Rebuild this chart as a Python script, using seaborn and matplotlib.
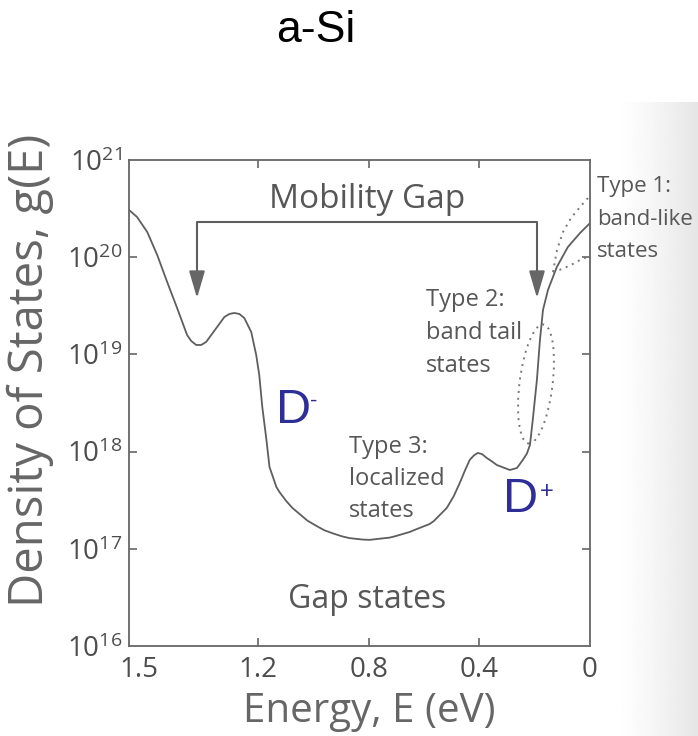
import numpy as np
import pandas as pd
import matplotlib
matplotlib.use("Agg")
import matplotlib.pyplot as plt
import seaborn as sns
from matplotlib.patches import Ellipse
from matplotlib.ticker import NullLocator, FixedLocator, LogFormatterMathtext

# ---- data ----
energy_eV = [1.667, 1.638, 1.601, 1.565, 1.529, 1.493, 1.457, 1.442, 1.424, 1.406,
             1.388, 1.351, 1.322, 1.304, 1.286, 1.268, 1.250, 1.225, 1.207, 1.196,
             1.185, 1.170, 1.159, 1.134, 1.123, 1.098, 1.076, 1.051, 1.022, 0.989,
             0.960, 0.931, 0.899, 0.870, 0.822, 0.797, 0.725, 0.710, 0.652, 0.638,
             0.580, 0.565, 0.518, 0.493, 0.471, 0.453, 0.435, 0.420, 0.406, 0.391,
             0.373, 0.355, 0.337, 0.290, 0.264, 0.243, 0.228, 0.217, 0.207, 0.192,
             0.181, 0.170, 0.152, 0.120, 0.080, 0.036, 0.007, 0.0]
log10_dos = [20.486, 20.414, 20.259, 20.023, 19.745, 19.477, 19.200, 19.138, 19.097, 19.097,
             19.128, 19.272, 19.385, 19.416, 19.426, 19.416, 19.374, 19.230, 18.994, 18.788,
             18.459, 18.119, 17.842, 17.636, 17.584, 17.490, 17.420, 17.360, 17.290, 17.235,
             17.190, 17.160, 17.130, 17.110, 17.095, 17.092, 17.115, 17.125, 17.173, 17.190,
             17.255, 17.285, 17.420, 17.540, 17.677, 17.800, 17.914, 17.960, 17.986, 17.975,
             17.934, 17.900, 17.862, 17.811, 17.831, 17.914, 17.980, 18.070, 18.325, 18.737,
             19.148, 19.457, 19.663, 19.899, 20.105, 20.249, 20.331, 20.350]
x_tick_values = [1.63, 1.2, 0.8, 0.4, 0.0]
x_tick_labels = ["1.5", "1.2", "0.8", "0.4", "0"]
y_decades = [16, 17, 18, 19, 20, 21]

# ---- style ----
sns.set_theme(style="ticks")
plt.rcParams['font.family'] = ['Open Sans', 'DejaVu Sans']
plt.rcParams['mathtext.fontset'] = 'custom'
plt.rcParams['mathtext.rm'] = 'Open Sans'
plt.rcParams['mathtext.it'] = 'Open Sans:italic'
plt.rcParams['mathtext.bf'] = 'Open Sans:bold'

GRAY = '#5e5e5e'
TXT = '#575757'
BLUE = '#2e2e98'

W, H = 698, 736
fig = plt.figure(figsize=(W / 100, H / 100), dpi=100)
fig.patch.set_facecolor('white')

# scanned-page shading at the right
bg = fig.add_axes([615 / W, 0, (W - 615) / W, (736 - 102) / H], zorder=0)
grad = 1.0 - 0.10 * np.linspace(0, 1, 200) ** 1.3
bg.imshow(np.tile(grad, (10, 1)), cmap='gray', vmin=0, vmax=1, aspect='auto',
          extent=[0, 1, 0, 1])
bg.axis('off')

L, R, T, B = 129, 590, 160, 646
ax = fig.add_axes([L / W, 1 - B / H, (R - L) / W, (B - T) / H], zorder=2)
ax.set_facecolor('white')

df = pd.DataFrame({'E': energy_eV, 'g': 10.0 ** np.array(log10_dos)})
sns.lineplot(data=df, x='E', y='g', ax=ax, color=GRAY, lw=1.3, sort=False,
             estimator=None)
ax.set_yscale('log')
ax.set_ylim(10.0 ** y_decades[0], 10.0 ** y_decades[-1])
ax.set_xlim(1.667, 0)

ax.xaxis.set_major_locator(FixedLocator(x_tick_values))
ax.set_xticklabels(x_tick_labels)
ax.yaxis.set_major_locator(FixedLocator([10.0 ** d for d in y_decades]))
ax.yaxis.set_major_formatter(LogFormatterMathtext())
ax.yaxis.set_minor_locator(NullLocator())
ax.xaxis.set_minor_locator(NullLocator())

ax.tick_params(axis='both', direction='in', length=6, width=1.2, colors='#666666',
               labelcolor='#4d4d4d', labelsize=20, top=True, right=True)
ax.tick_params(axis='x', pad=7)
ax.tick_params(axis='y', pad=5)
for t in ax.xaxis.get_major_ticks()[:1] + ax.xaxis.get_major_ticks()[-1:]:
    t.tick1line.set_visible(False)
    t.tick2line.set_visible(False)
for t in ax.yaxis.get_major_ticks()[:1] + ax.yaxis.get_major_ticks()[-1:]:
    t.tick1line.set_visible(False)
    t.tick2line.set_visible(False)
for s in ax.spines.values():
    s.set_color('#666666')
    s.set_linewidth(1.3)

ax.set_xlabel("Energy, E (eV)", fontsize=29, color='#666666')
ax.xaxis.set_label_coords((369 - L) / (R - L), (B - 691) / (B - T))
ax.set_ylabel("")
fig.text(30 / W, 1 - 370 / H, "Density of States, g(E)", rotation=90, ha='center',
         va='center', fontsize=34, color='#666666')


def fx(px):
    return (px - L) / (R - L)


def fy(py):
    return (B - py) / (B - T)


# Mobility gap bracket
ax.plot([fx(197), fx(197), fx(537), fx(537)], [fy(285), fy(222), fy(222), fy(285)],
        transform=ax.transAxes, color=GRAY, lw=1.5, solid_capstyle='butt')
for xx in (197, 537):
    ax.annotate('', xy=(fx(xx), fy(298)), xytext=(fx(xx), fy(274)),
                xycoords='axes fraction', textcoords='axes fraction',
                arrowprops=dict(arrowstyle='-|>,head_length=0.75,head_width=0.22',
                                color='#666666', lw=1.5, mutation_scale=22,
                                shrinkA=0, shrinkB=0))
ax.text(fx(367), fy(199), "Mobility Gap", transform=ax.transAxes, ha='center',
        va='center', fontsize=24, color=TXT)

# dotted outlines
DOT = (0, (1, 2.5))
ax.add_patch(Ellipse((fx(536), fy(384)), 33 / (R - L), 120 / (B - T), angle=-7.5,
                     transform=ax.transAxes, fill=False, ls=DOT,
                     ec='#777777', lw=1.4))
ax.plot([fx(p) for p in (553, 557, 563, 571, 580, 588)],
        [fy(p) for p in (272, 250, 232, 218, 207, 198)],
        transform=ax.transAxes, color='#777777', lw=1.4, ls=DOT, clip_on=False)
ax.plot([fx(p) for p in (553, 562, 571, 580, 590)],
        [fy(p) for p in (272, 269, 265, 260, 256)],
        transform=ax.transAxes, color='#777777', lw=1.4, ls=DOT, clip_on=False)

# annotations
ax.text(fx(597), fy(176), "Type 1:\nband-like\nstates", transform=ax.transAxes,
        ha='left', va='top', fontsize=16, color=TXT, linespacing=1.72, clip_on=False)
ax.text(fx(426), fy(288), "Type 2:\nband tail\nstates", transform=ax.transAxes,
        ha='left', va='top', fontsize=17, color=TXT, linespacing=1.5)
ax.text(fx(349), fy(435), "Type 3:\nlocalized\nstates", transform=ax.transAxes,
        ha='left', va='top', fontsize=17, color=TXT, linespacing=1.45)
ax.text(fx(367), fy(600), "Gap states", transform=ax.transAxes, ha='center',
        va='center', fontsize=23, color=TXT)

ax.text(fx(276), fy(423), "D", transform=ax.transAxes, ha='left', va='baseline',
        fontsize=35, color=BLUE, family='Liberation Sans')
ax.text(fx(314), fy(401), "-", transform=ax.transAxes, ha='center', va='center',
        fontsize=16, color=BLUE, family='Liberation Sans')
ax.text(fx(503), fy(512), "D", transform=ax.transAxes, ha='left', va='baseline',
        fontsize=35, color=BLUE, family='Liberation Sans')
ax.text(fx(547), fy(492), "+", transform=ax.transAxes, ha='center', va='center',
        fontsize=17, color=BLUE, family='Liberation Sans')

fig.text(316 / W, 1 - 30 / H, "a-Si", ha='center', va='center', fontsize=32,
         color='black', family='Liberation Sans')

fig.savefig("out.png", dpi=100)
